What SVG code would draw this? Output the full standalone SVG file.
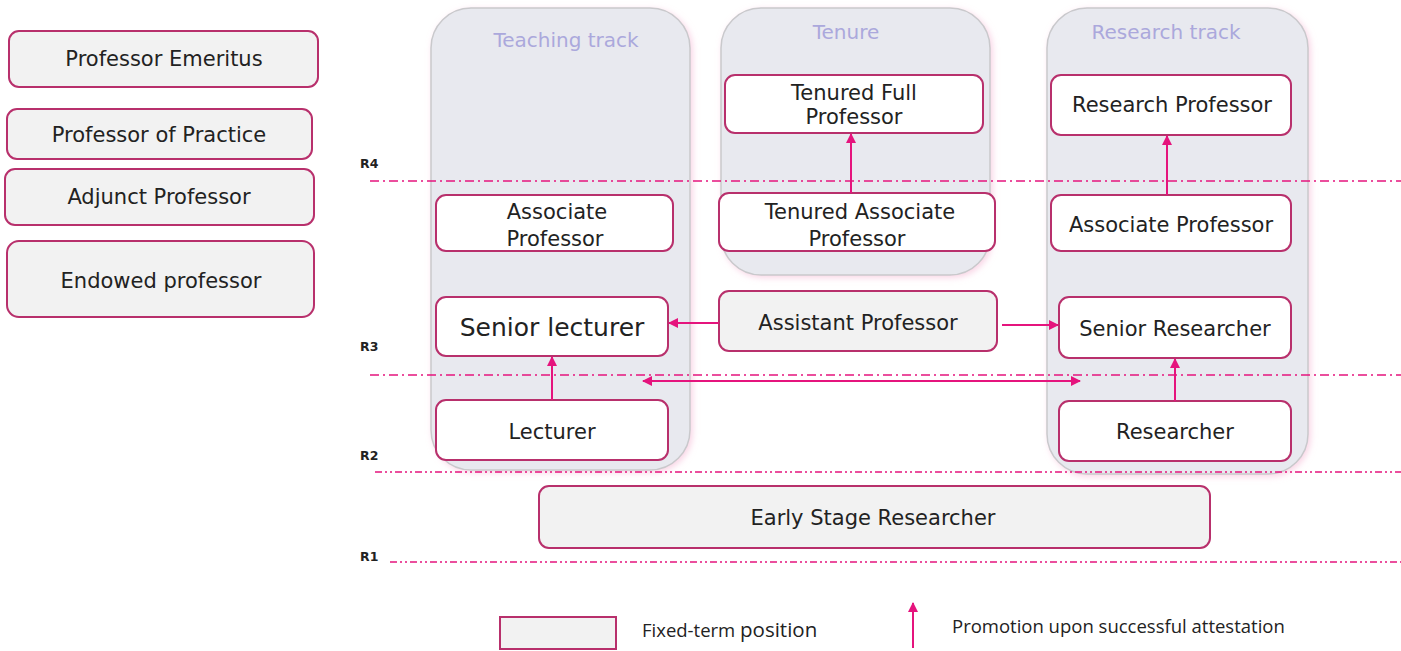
<svg xmlns="http://www.w3.org/2000/svg" width="1401" height="651" viewBox="0 0 1401 651">
  <defs>
    <marker id="arr" viewBox="0 0 10 10" refX="9" refY="5" markerWidth="10" markerHeight="10" markerUnits="userSpaceOnUse" orient="auto-start-reverse">
      <path d="M0,0 L10,5 L0,10 z" fill="#e5147d"/>
    </marker>
    <filter id="glow" x="-10%" y="-10%" width="120%" height="120%">
      <feDropShadow dx="2" dy="2" stdDeviation="3" flood-color="#f5b8d4" flood-opacity="0.6"/>
    </filter>
  </defs>
  <style>
    .track { fill: #e8e9ef; stroke: #c9c9cc; stroke-width: 1.5; }
    .track-title { font-family: "DejaVu Sans", Verdana, sans-serif; font-size: 20px; fill: #aba8dc; text-anchor: middle; }
    .node { fill: #ffffff; stroke: #b8306c; stroke-width: 2; }
    .fixed { fill: #f2f2f2; stroke: #b8306c; stroke-width: 2; }
    .label { font-family: "DejaVu Sans", Verdana, sans-serif; font-size: 21px; fill: #222222; text-anchor: middle; }
    .big { font-size: 25px; }
    .level { stroke: #e5147d; stroke-width: 1.5; stroke-dasharray: 9 4 2 4; fill: none; }
    .level-low { stroke-dasharray: 7 3 2 3 2 3; }
    .level-tag { font-family: "DejaVu Sans", Verdana, sans-serif; font-size: 12.5px; font-weight: bold; fill: #222222; }
    .edge { stroke: #e5147d; stroke-width: 2; fill: none; }
    .legend { font-family: "Open Sans", sans-serif; fill: #222222; }
  </style>

  <rect width="1401" height="651" fill="#ffffff"/>

  <!-- track containers -->
  <g id="teaching-track">
    <rect class="track" x="431" y="8" width="259" height="462" rx="40" filter="url(#glow)"/>
    <text class="track-title" x="566" y="47">Teaching track</text>
  </g>
  <g id="tenure-track">
    <rect class="track" x="721" y="8" width="269" height="267" rx="40" filter="url(#glow)"/>
    <text class="track-title" x="846" y="39">Tenure</text>
  </g>
  <g id="research-track">
    <rect class="track" x="1047" y="8" width="261" height="466" rx="40" filter="url(#glow)"/>
    <text class="track-title" x="1166" y="39">Research track</text>
  </g>

  <!-- level lines -->
  <g id="levels">
    <line class="level" x1="370" y1="181" x2="1401" y2="181"/>
    <line class="level" x1="370" y1="375" x2="1401" y2="375"/>
    <line class="level level-low" x1="375" y1="472" x2="1401" y2="472"/>
    <line class="level level-low" x1="390" y1="562" x2="1401" y2="562"/>
    <text class="level-tag" x="360" y="168">R4</text>
    <text class="level-tag" x="360" y="351">R3</text>
    <text class="level-tag" x="360" y="460">R2</text>
    <text class="level-tag" x="360" y="561">R1</text>
  </g>

  <!-- standalone titles -->
  <g id="professor-emeritus">
    <rect class="fixed" x="9" y="31" width="309" height="56" rx="10"/>
    <text class="label" x="164" y="66">Professor Emeritus</text>
  </g>
  <g id="professor-of-practice">
    <rect class="fixed" x="7" y="109" width="305" height="50" rx="10"/>
    <text class="label" x="159" y="142">Professor of Practice</text>
  </g>
  <g id="adjunct-professor">
    <rect class="fixed" x="5" y="169" width="309" height="56" rx="10"/>
    <text class="label" x="159" y="204">Adjunct Professor</text>
  </g>
  <g id="endowed-professor">
    <rect class="fixed" x="7" y="241" width="307" height="76" rx="12"/>
    <text class="label" x="161" y="288">Endowed professor</text>
  </g>

  <!-- teaching track -->
  <g id="teaching-associate-professor">
    <rect class="node" x="436" y="195" width="237" height="56" rx="10"/>
    <text class="label" x="557" y="219">Associate</text>
    <text class="label" x="555" y="246">Professor</text>
  </g>
  <g id="senior-lecturer">
    <rect class="node" x="436" y="297" width="232" height="59" rx="10"/>
    <text class="label big" x="552" y="336">Senior lecturer</text>
  </g>
  <g id="lecturer">
    <rect class="node" x="436" y="400" width="232" height="60" rx="10"/>
    <text class="label" x="552" y="439">Lecturer</text>
  </g>

  <!-- tenure -->
  <g id="tenured-full-professor">
    <rect class="node" x="725" y="75" width="258" height="58" rx="10"/>
    <text class="label" x="854" y="100">Tenured Full</text>
    <text class="label" x="854" y="124">Professor</text>
  </g>
  <g id="tenured-associate-professor">
    <rect class="node" x="719" y="193" width="276" height="58" rx="10"/>
    <text class="label" x="860" y="219">Tenured Associate</text>
    <text class="label" x="857" y="246">Professor</text>
  </g>
  <g id="assistant-professor">
    <rect class="fixed" x="719" y="291" width="278" height="60" rx="10"/>
    <text class="label" x="858" y="330">Assistant Professor</text>
  </g>

  <!-- research track -->
  <g id="research-professor">
    <rect class="node" x="1051" y="75" width="240" height="60" rx="10"/>
    <text class="label" x="1172" y="112">Research Professor</text>
  </g>
  <g id="research-associate-professor">
    <rect class="node" x="1051" y="195" width="240" height="56" rx="10"/>
    <text class="label" x="1171" y="232">Associate Professor</text>
  </g>
  <g id="senior-researcher">
    <rect class="node" x="1059" y="297" width="232" height="61" rx="10"/>
    <text class="label" x="1175" y="336">Senior Researcher</text>
  </g>
  <g id="researcher">
    <rect class="node" x="1059" y="401" width="232" height="60" rx="10"/>
    <text class="label" x="1175" y="439">Researcher</text>
  </g>

  <!-- entry level -->
  <g id="early-stage-researcher">
    <rect class="fixed" x="539" y="486" width="671" height="62" rx="10"/>
    <text class="label" x="873" y="525">Early Stage Researcher</text>
  </g>

  <!-- connectors -->
  <g id="connectors">
    <line class="edge" x1="851" y1="193" x2="851" y2="134" marker-end="url(#arr)"/>
    <line class="edge" x1="1167" y1="195" x2="1167" y2="136" marker-end="url(#arr)"/>
    <line class="edge" x1="1175" y1="401" x2="1175" y2="359" marker-end="url(#arr)"/>
    <line class="edge" x1="552" y1="400" x2="552" y2="357" marker-end="url(#arr)"/>
    <line class="edge" x1="719" y1="323" x2="669" y2="323" marker-end="url(#arr)"/>
    <line class="edge" x1="1002" y1="325" x2="1058" y2="325" marker-end="url(#arr)"/>
    <line class="edge" x1="643" y1="381" x2="1080" y2="381" marker-start="url(#arr)" marker-end="url(#arr)"/>
  </g>

  <!-- legend -->
  <g id="legend">
    <rect class="fixed" x="500" y="617" width="116" height="32"/>
    <text class="legend" x="642" y="637" font-size="18.5">Fixed-term <tspan font-size="20.5">position</tspan></text>
    <line class="edge" x1="913" y1="648" x2="913" y2="603" marker-end="url(#arr)"/>
    <text class="legend" x="952" y="633" font-size="18.5">Promotion upon successful attestation</text>
  </g>
</svg>
